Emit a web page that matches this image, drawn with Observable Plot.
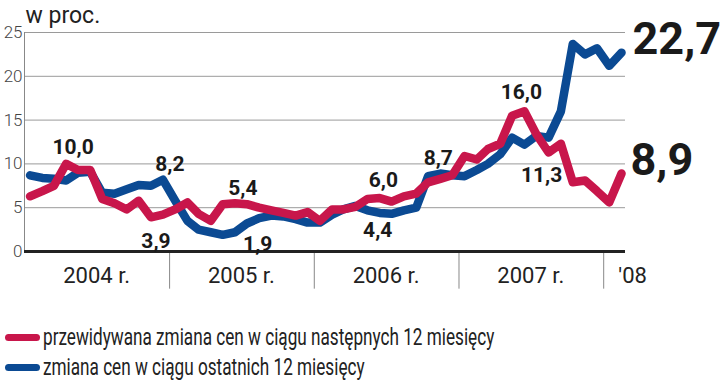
<!DOCTYPE html>
<html><head><meta charset="utf-8">
<script src="https://cdn.jsdelivr.net/npm/d3@7"></script>
<script src="https://cdn.jsdelivr.net/npm/@observablehq/plot@0.6"></script>
<style>
body{margin:0;background:#fff;font-family:Roboto,sans-serif;}
#legend{margin-top:22px;}
.row{display:flex;align-items:center;height:30px;}
.sw{width:35px;height:7px;border-radius:4px;margin-left:5px;margin-right:3px;flex:none;}
.lt{font-size:24px;color:#222;display:inline-block;transform:scaleX(.715);transform-origin:left center;white-space:nowrap;}
</style></head><body>
<div id="chart"></div>
<div id="legend"></div>
<script>
const months = [
 "2004-01","2004-02","2004-03","2004-04","2004-05","2004-06","2004-07","2004-08","2004-09","2004-10","2004-11","2004-12",
 "2005-01","2005-02","2005-03","2005-04","2005-05","2005-06","2005-07","2005-08","2005-09","2005-10","2005-11","2005-12",
 "2006-01","2006-02","2006-03","2006-04","2006-05","2006-06","2006-07","2006-08","2006-09","2006-10","2006-11","2006-12",
 "2007-01","2007-02","2007-03","2007-04","2007-05","2007-06","2007-07","2007-08","2007-09","2007-10","2007-11","2007-12",
 "2008-01","2008-02"];
// przewidywana zmiana cen w ciągu następnych 12 miesięcy
const expected = [6.3,6.9,7.5,10.0,9.3,9.3,6.0,5.5,4.8,5.8,3.9,4.2,
 4.8,5.6,4.3,3.5,5.4,5.5,5.4,5.0,4.7,4.4,4.1,4.5,
 3.5,4.8,4.8,5.1,6.0,6.1,5.7,6.3,6.6,7.9,8.3,8.7,
 10.9,10.5,11.7,12.3,15.5,16.0,13.4,11.3,12.3,7.9,8.1,6.9,
 5.6,8.9];
// zmiana cen w ciągu ostatnich 12 miesięcy
const past = [8.7,8.4,8.3,8.1,9.0,9.1,6.7,6.6,7.1,7.6,7.5,8.2,
 5.8,3.5,2.5,2.2,1.9,2.2,3.2,3.8,4.1,4.0,3.7,3.3,
 3.3,4.2,4.8,5.2,4.7,4.4,4.3,4.7,5.0,8.6,8.9,8.7,
 8.6,9.3,10.0,11.1,13.0,12.2,13.2,13.0,16.0,23.7,22.5,23.2,
 21.2,22.7];
const yearLabels = ["2004 r.","2005 r.","2006 r.","2007 r.","'08"];
const yearLabelDates = ["2004-07-01","2005-07-01","2006-07-01","2007-07-01","2008-03-14"];
const yearBreaks = ["2005-01-01","2006-01-01","2007-01-01","2008-01-01"];
const yTicks = [0,5,10,15,20,25];
const seriesNames = ["przewidywana zmiana cen w ciągu następnych 12 miesięcy","zmiana cen w ciągu ostatnich 12 miesięcy"];
const colors = ["#c8164b","#0b4a93"];

const toDate = s => new Date(s.length === 7 ? s + "-15T00:00:00Z" : s + "T00:00:00Z");
const redData = months.map((m,i) => ({date: toDate(m), value: expected[i]}));
const blueData = months.map((m,i) => ({date: toDate(m), value: past[i]}));

function lab(data, i, dx, dy, size, anchor) {
  const d = data[i];
  return Plot.text([d], {x: "date", y: "value", text: d => d.value.toFixed(1).replace(".", ","),
    dx, dy, fontSize: size, fontWeight: "bold", fill: "#1a1a1a", textAnchor: anchor || "middle"});
}

const chart = Plot.plot({
  width: 720, height: 300,
  marginLeft: 24, marginRight: 95, marginTop: 32, marginBottom: 49,
  style: {fontFamily: "Roboto, sans-serif", background: "#fff"},
  x: {type: "utc", domain: [toDate("2004-01-01"), toDate("2008-02-25")], axis: null},
  y: {domain: [0, 25], axis: null},
  marks: [
    Plot.gridY(yTicks.filter(t => t > 0), {stroke: "#9a9a9a", strokeOpacity: 1, strokeWidth: 1}),
    Plot.axisY(yTicks, {tickSize: 0, tickPadding: 2, fontSize: 17, fontWeight: 300, fill: "#444", label: null}),
    Plot.ruleX([toDate("2004-01-01")], {y1: 0, y2: 25, stroke: "#888", strokeWidth: 1}),
    Plot.ruleX(yearBreaks.map(toDate), {y1: 0, y2: -4.3, stroke: "#888", strokeWidth: 1}),
    Plot.ruleY([0], {stroke: "#222", strokeWidth: 3}),
    Plot.text(yearLabels, {x: (d,i) => toDate(yearLabelDates[i]), y: 0, text: d => d, dy: 24, fontSize: 22, fill: "#222"}),
    Plot.text(["w proc."], {frameAnchor: "top-left", lineAnchor: "middle", dy: -17, dx: 1, fontSize: 23, fill: "#222", textAnchor: "start"}),
    Plot.line(blueData, {x: "date", y: "value", stroke: colors[1], strokeWidth: 8.5, strokeLinejoin: "round", strokeLinecap: "round"}),
    Plot.line(redData, {x: "date", y: "value", stroke: colors[0], strokeWidth: 8.5, strokeLinejoin: "round", strokeLinecap: "round"}),
    lab(redData, 3, 7, -17, 21),
    lab(blueData, 11, 7, -15, 21),
    lab(redData, 10, 5, 24, 21),
    lab(redData, 18, -4, -16, 21),
    lab(blueData, 16, 35, 9, 21),
    lab(redData, 28, 16, -19, 21),
    lab(blueData, 29, -2, 17, 21),
    lab(redData, 35, -14, -17, 21),
    lab(redData, 41, -3, -19, 21),
    lab(redData, 43, -7, 23, 21),
    lab(blueData, 49, 11, -13, 45, "start"),
    lab(redData, 49, 9, -13, 45, "start")
  ]
});
document.getElementById("chart").appendChild(chart);

const legend = document.getElementById("legend");
seriesNames.forEach((name, i) => {
  const row = document.createElement("div");
  row.className = "row";
  row.innerHTML = `<span class="sw" style="background:${colors[i]}"></span><span class="lt">${name}</span>`;
  legend.appendChild(row);
});
</script>
</body></html>
